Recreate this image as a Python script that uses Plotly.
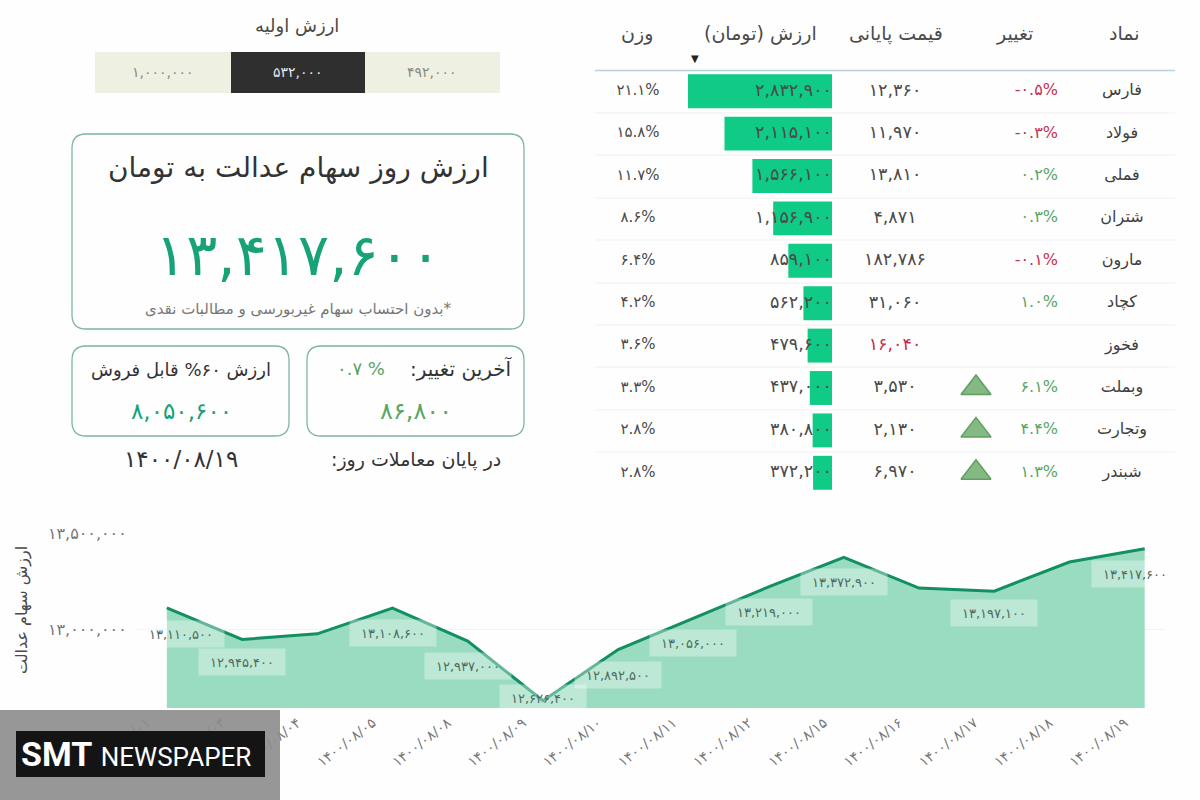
import plotly.graph_objects as go

# table
symbols = ["فارس", "فولاد", "فملی", "شتران", "مارون", "کچاد", "فخوز", "وبملت", "وتجارت", "شبندر"]
changes = [-0.5, -0.3, 0.2, 0.3, -0.1, 1.0, None, 6.1, 4.4, 1.3]
prices = [12360, 11970, 13810, 4871, 182786, 31060, 16040, 3530, 2130, 6970]
values = [2832900, 2115100, 1566100, 1156900, 859100, 562200, 479600, 437000, 380800, 372200]
weights = [21.1, 15.8, 11.7, 8.6, 6.4, 4.2, 3.6, 3.3, 2.8, 2.8]
headers = ["نماد", "تغییر", "قیمت پایانی", "ارزش (تومان)\u200f", "وزن"]

# summary panel
initial_values = [1000000, 532000, 492000]
total_value = 13417600
sellable_value = 8050600
last_change = 86800
last_change_pct = 0.7
last_date = "1400/08/19"

# history
dates = ["1400/08/01", "1400/08/03", "1400/08/04", "1400/08/05", "1400/08/08", "1400/08/09", "1400/08/10",
         "1400/08/11", "1400/08/12", "1400/08/15", "1400/08/16", "1400/08/17", "1400/08/18", "1400/08/19"]
history = [13110500, 12945400, 12975000, 13108600, 12937000, 12626400, 12892500,
           13056000, 13219000, 13372900, 13213000, 13197100, 13349000, 13417600]
y_ticks = [13000000, 13500000]

GREEN = "#17a277"
RED = "#c4314f"
SOFT_GREEN = "#5aa566"
TEXT = "#4a4a4a"
BORDER = "#7fb3a5"


def fa(v):
    s = f"{v:,}" if isinstance(v, int) else str(v)
    return s.translate(str.maketrans("0123456789", "۰۱۲۳۴۵۶۷۸۹"))


def px(x):
    return x / 1200


def py(y):
    return 1 - y / 800


def round_box(x0, y0, x1, y1, r=14):
    a, b, c, d = px(x0), px(x1), py(y0), py(y1)
    rx, ry = r / 1200, r / 800
    return (f"M{a + rx},{c} L{b - rx},{c} Q{b},{c} {b},{c - ry} L{b},{d + ry} Q{b},{d} {b - rx},{d} "
            f"L{a + rx},{d} Q{a},{d} {a},{d + ry} L{a},{c - ry} Q{a},{c} {a + rx},{c} Z")


def label(x, y, text, size=16, color=TEXT, anchor="center", **kw):
    fig.add_annotation(xref="paper", yref="paper", x=px(x), y=py(y), text=text, showarrow=False,
                       xanchor=anchor, yanchor="middle", font=dict(size=size, color=color), **kw)


fig = go.Figure()

# area chart
fig.add_trace(go.Scatter(
    x=dates, y=history, mode="lines", fill="tozeroy", fillcolor="#9adcc0",
    line=dict(color="#128f63", width=3), xaxis="x", yaxis="y", cliponaxis=False,
))

# value bars
fig.add_trace(go.Bar(
    x=values, y=symbols, orientation="h", width=0.8, marker=dict(color="#0fcb85", line_width=0),
    xaxis="x2", yaxis="y2",
))


def column(x, y, text, colors, position, size=16):
    fig.add_trace(go.Scatter(
        x=[x] * len(y), y=y, mode="text", text=text, textposition=position,
        textfont=dict(size=size, color=colors), xaxis="x3", yaxis="y2", cliponaxis=False,
    ))


column(1122, symbols, symbols, "#3f3f3f", "middle center")
rows = [i for i, c in enumerate(changes) if c is not None]
column(1058, [symbols[i] for i in rows], [fa(changes[i]) + "%" for i in rows],
       [RED if changes[i] < 0 else SOFT_GREEN for i in rows], "middle left")
column(895, symbols, [fa(p) for p in prices], [RED if c is None else TEXT for c in changes], "middle center", 17.5)
column(832, symbols, [fa(v) for v in values], TEXT, "middle left", 17.5)
column(638, symbols, [fa(w) + "%" for w in weights], TEXT, "middle center", 15)

# up arrows for the big movers
big = [s for s, c in zip(symbols, changes) if c is not None and c > 1.0]
fig.add_trace(go.Scatter(
    x=[976] * len(big), y=big, mode="markers", xaxis="x3", yaxis="y2",
    marker=dict(symbol="triangle-up", size=26, color="#84b984", line=dict(color="#5f9f62", width=1.5)),
))

shapes = []
# header rule and row separators
shapes.append(dict(type="line", xref="paper", yref="paper", x0=px(595), x1=px(1175), y0=py(70.5), y1=py(70.5),
                   line=dict(color="#b9d0dd", width=1.5)))
for sep in [113, 155, 198, 240, 283, 325, 367, 410, 452]:
    shapes.append(dict(type="line", xref="paper", yref="paper", x0=px(595), x1=px(1175), y0=py(sep), y1=py(sep),
                       line=dict(color="#f0f0f0", width=1)))
# initial value selector
for x0, x1, col in [(95, 231, "#eef0e2"), (231, 365, "#2f2f2f"), (365, 500, "#eef0e2")]:
    shapes.append(dict(type="rect", xref="paper", yref="paper", x0=px(x0), x1=px(x1), y0=py(52), y1=py(93),
                       fillcolor=col, line_width=0))
# cards
for box in [(72, 134, 524, 329), (72, 346, 289, 436), (307, 346, 524, 436)]:
    shapes.append(dict(type="path", xref="paper", yref="paper", path=round_box(*box),
                       line=dict(color=BORDER, width=1.3)))
# watermark
shapes.append(dict(type="rect", xref="paper", yref="paper", x0=0, x1=px(280), y0=py(710), y1=0, layer="above",
                   fillcolor="rgba(140,140,140,0.9)", line_width=0))
shapes.append(dict(type="rect", xref="paper", yref="paper", x0=px(16), x1=px(265), y0=py(731), y1=py(777), layer="above",
                   fillcolor="#141414", line_width=0))

fig.update_layout(
    width=1200,
    height=800,
    margin=dict(l=0, r=0, t=0, b=0, autoexpand=False),
    font_family="DejaVu Sans",
    paper_bgcolor="#fefefe",
    plot_bgcolor="rgba(0,0,0,0)",
    showlegend=False,
    shapes=shapes,
    xaxis=dict(
        domain=[px(136), px(1165)], anchor="y", type="category", range=[-0.41, 13.27],
        tickvals=dates, ticktext=[fa(d) for d in dates], tickangle=-38, ticklabelstandoff=3, ticklabelshift=-20,
        tickfont=dict(size=14, color="#777"), showgrid=False, zeroline=False, showline=False,
    ),
    yaxis=dict(
        domain=[py(708), py(533)], anchor="x", range=[12588500, 13500000],
        tickvals=y_ticks, ticktext=[fa(v) for v in y_ticks], ticks="outside", ticklen=5, tickcolor="rgba(0,0,0,0)",
        tickfont=dict(size=16, color="#777"), gridcolor="#f2f2f2", zeroline=False, showline=False,
    ),
    xaxis2=dict(domain=[px(688), px(832)], anchor="y2", range=[values[0], 0], visible=False),
    yaxis2=dict(domain=[py(494), py(70)], anchor="x2", type="category", categoryarray=symbols,
                categoryorder="array", range=[9.5, -0.5], visible=False),
    xaxis3=dict(domain=[0, 1], anchor="y2", range=[0, 1200], visible=False),
)

# point labels, (x shift, y shift) in pixels; 04 and 16 carry no label
point_labels = {0: (14, -26), 1: (0, -23), 3: (0, -25), 4: (0, -25), 5: (0, 3), 6: (0, -25), 7: (0, -25),
                8: (0, -25), 9: (0, -25), 11: (0, -22), 13: (-10, -25)}
for i, (dx, dy) in point_labels.items():
    fig.add_annotation(x=dates[i], y=history[i], xref="x", yref="y", text=fa(history[i]), showarrow=False,
                       xshift=dx, yshift=dy, width=84, height=24, bgcolor="rgba(255,255,255,0.35)",
                       font=dict(size=13, color="#4d6b60"))

label(22, 610, "ارزش سهام عدالت", size=16, color=TEXT, textangle=-90)

# table header
for x, h in zip([1124, 1014, 896, 760, 637], headers):
    label(x, 33, h, size=19)
label(695, 58, "▼", size=10, color="#222")

# summary panel
label(297, 26, "ارزش اولیه", size=18)
for x, v, col in zip([163, 298, 432], initial_values, ["#8a8a7e", "#e8e8e8", "#8a8a7e"]):
    label(x, 72, fa(v), size=14, color=col)
label(298, 167, "ارزش روز سهام عدالت به تومان", size=28, color="#333")
label(298, 255, fa(total_value), size=58, color=GREEN)
label(298, 309, "\u200f*بدون احتساب سهام غیربورسی و مطالبات نقدی", size=15, color="#777")
label(515, 369, "آخرین تغییر:\u200f", size=20, anchor="right", color="#333")
label(361, 369, fa(last_change_pct) + " %", size=18, color=SOFT_GREEN)
label(416, 411, fa(last_change), size=24, color=SOFT_GREEN)
label(181, 370, "ارزش ۶۰% قابل فروش", size=18, color="#333")
label(181, 411, fa(sellable_value), size=23, color=GREEN)
label(181, 459, fa(last_date), size=23, color="#333")
label(416, 459, "در پایان معاملات روز:\u200f", size=19, color="#333")

# watermark text
fig.add_annotation(xref="paper", yref="paper", x=px(19), y=py(754), xanchor="left", yanchor="middle", showarrow=False,
                   text="<b>SMT</b> <span style='font-size:26px'>NEWSPAPER</span>",
                   font=dict(family="Roboto", size=34, color="#ffffff"))

fig.write_html("out.html", config={"displayModeBar": False}, post_script="document.body.style.margin='0';")
